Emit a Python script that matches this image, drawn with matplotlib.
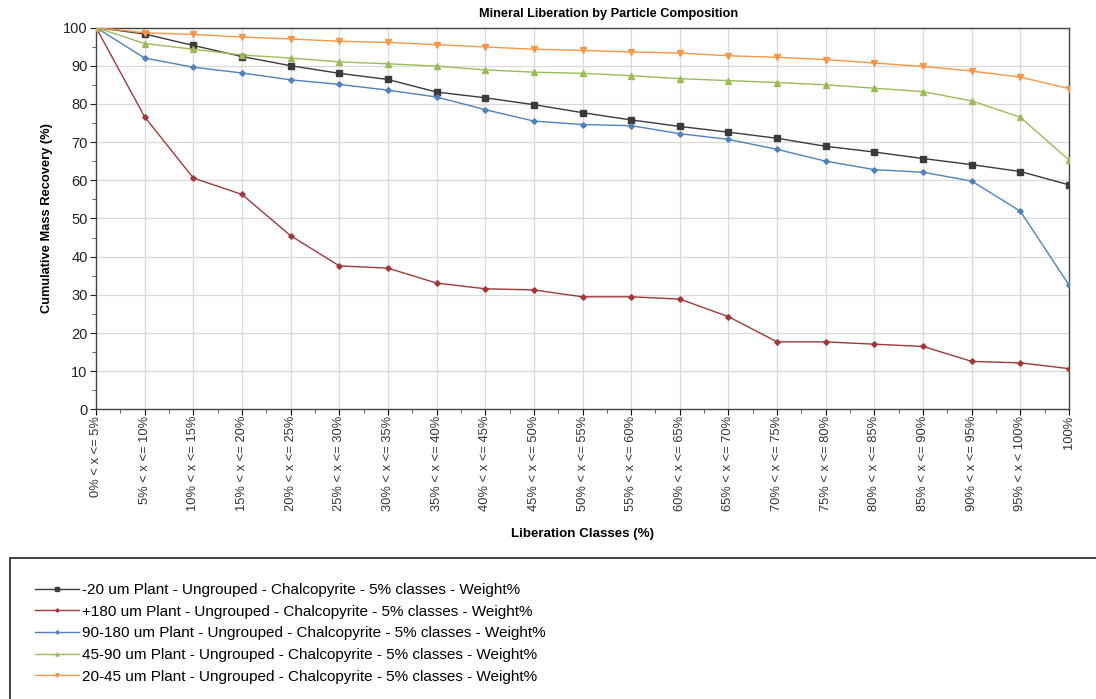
import matplotlib
matplotlib.use("Agg")
import matplotlib.pyplot as plt
from matplotlib.patches import Rectangle
from matplotlib.ticker import MultipleLocator

plt.rcParams['font.family'] = ['Liberation Sans', 'DejaVu Sans']

categories = ["0% < x <= 5%", "5% < x <= 10%", "10% < x <= 15%", "15% < x <= 20%",
              "20% < x <= 25%", "25% < x <= 30%", "30% < x <= 35%", "35% < x <= 40%",
              "40% < x <= 45%", "45% < x <= 50%", "50% < x <= 55%", "55% < x <= 60%",
              "60% < x <= 65%", "65% < x <= 70%", "70% < x <= 75%", "75% < x <= 80%",
              "80% < x <= 85%", "85% < x <= 90%", "90% < x <= 95%", "95% < x < 100%",
              "100%"]

minus20 = [100, 98.3, 95.3, 92.4, 90.0, 88.0, 86.4, 83.1, 81.6, 79.8, 77.7, 75.8,
           74.1, 72.6, 71.0, 68.9, 67.4, 65.7, 64.1, 62.3, 58.8]
plus180 = [100, 76.6, 60.6, 56.3, 45.5, 37.6, 37.0, 33.1, 31.6, 31.3, 29.5, 29.5,
           28.9, 24.3, 17.7, 17.7, 17.1, 16.5, 12.6, 12.2, 10.7]
s90_180 = [100, 92.0, 89.6, 88.1, 86.3, 85.1, 83.6, 81.8, 78.5, 75.5, 74.6, 74.3,
           72.2, 70.7, 68.1, 65.0, 62.8, 62.1, 59.8, 51.9, 32.6]
s45_90 = [100, 95.8, 94.3, 92.8, 92.0, 91.0, 90.5, 89.9, 88.9, 88.3, 88.0, 87.4,
          86.6, 86.1, 85.6, 85.0, 84.1, 83.2, 80.8, 76.5, 65.3]
s20_45 = [100, 98.6, 98.2, 97.5, 97.0, 96.4, 96.1, 95.5, 94.9, 94.3, 94.0, 93.6,
          93.3, 92.6, 92.2, 91.6, 90.7, 89.8, 88.6, 87.0, 84.0]

labels = ["-20 um Plant - Ungrouped - Chalcopyrite - 5% classes - Weight%",
          "+180 um Plant - Ungrouped - Chalcopyrite - 5% classes - Weight%",
          "90-180 um Plant - Ungrouped - Chalcopyrite - 5% classes - Weight%",
          "45-90 um Plant - Ungrouped - Chalcopyrite - 5% classes - Weight%",
          "20-45 um Plant - Ungrouped - Chalcopyrite - 5% classes - Weight%"]

series = [minus20, plus180, s90_180, s45_90, s20_45]
colors = ["#3a3a3a", "#a0393b", "#4f81bd", "#9bbb59", "#f79646"]
markers = ["s", "D", "D", "^", "v"]
msizes = [4, 2.8, 2.8, 4, 4]

W, H = 1096, 699
fig = plt.figure(figsize=(W / 100, H / 100), dpi=100)
ax = fig.add_axes([96 / W, 1 - 409.5 / H, (1069 - 96) / W, (409.5 - 27.5) / H])

x = list(range(len(categories)))
handles = []
for vals, c, m, ms, lab in zip(series, colors, markers, msizes, labels):
    h, = ax.plot(x, vals, color=c, marker=m, markersize=ms, linewidth=1.0,
                 label=lab, zorder=3)
    handles.append(h)

ax.set_xlim(0, len(categories) - 1)
ax.set_ylim(0, 100)
ax.set_xticks(x)
ax.set_xticklabels(categories, rotation=90, fontsize=9.3, color="#333333")
ax.set_xticks([i + 0.5 for i in x[:-1]], minor=True)
ax.yaxis.set_major_locator(MultipleLocator(10))
ax.yaxis.set_minor_locator(MultipleLocator(5))
ax.tick_params(axis='y', labelsize=10.5, colors="#222222", direction='out', length=4, pad=2)
ax.tick_params(axis='x', direction='out', length=4, pad=0.5)
ax.tick_params(which='minor', direction='out', length=3, color="#444444")
ax.grid(True, which='major', color="#d9d9d9", linewidth=0.9, zorder=0)
for s in ax.spines.values():
    s.set_color("#444444")
    s.set_linewidth(1.0)

fig.text(609 / W, 1 - 14 / H, "Mineral Liberation by Particle Composition", fontsize=9.2,
         fontweight='bold', ha='center', va='center')
ax.set_ylabel("Cumulative Mass Recovery (%)", fontsize=9.3, fontweight='bold', labelpad=7)
ax.set_xlabel("Liberation Classes (%)", fontsize=9.6, fontweight='bold', labelpad=12)

# legend box
fig.patches.append(Rectangle((10 / W, -0.05), 1.1, (H - 558) / H + 0.05,
                             transform=fig.transFigure, fill=False,
                             edgecolor="#222222", linewidth=1.2, clip_on=False))
fig.legend(handles=handles, loc='upper left', bbox_to_anchor=(35 / W, 1 - 583 / H),
           frameon=False, fontsize=11, handlelength=2.9, handletextpad=0.15,
           labelspacing=0.5, borderaxespad=0, borderpad=0, markerscale=0.6)

fig.savefig("out.png", dpi=100)
